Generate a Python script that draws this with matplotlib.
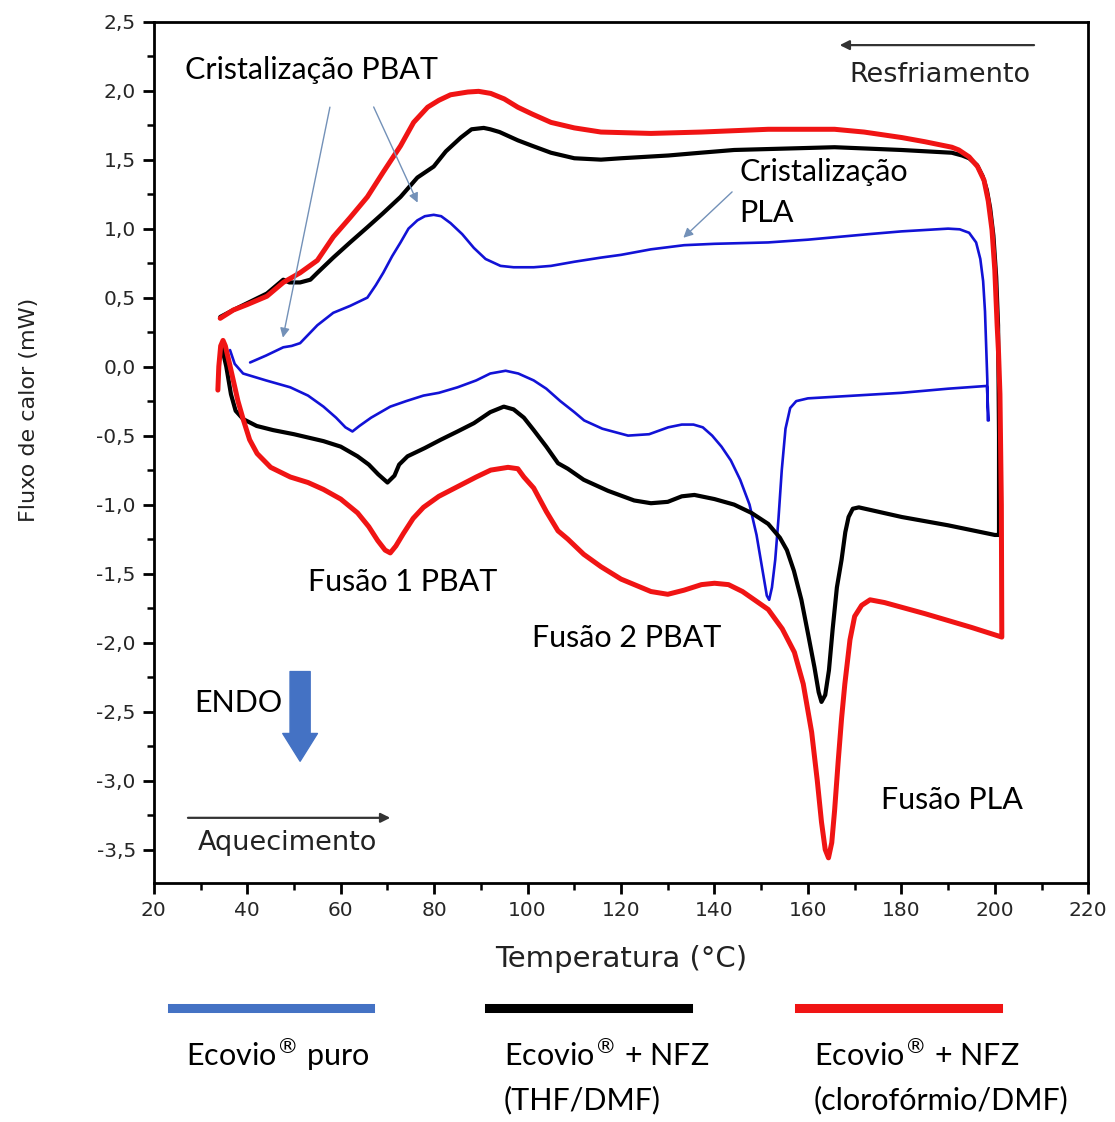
import matplotlib
matplotlib.use("Agg")
import matplotlib.pyplot as plt
from matplotlib.lines import Line2D
from matplotlib.ticker import MultipleLocator, FuncFormatter

# Ecovio puro (blue) - heating then cooling
blue_heat_T = [36.3, 37.3, 39.1, 44, 49.2, 53, 56.3, 59, 61, 62.5, 64, 66.5, 70.6, 74, 77.7, 81, 85.0, 89, 92,
               95.3, 98, 101.3, 104, 107, 110, 112.1, 116, 121.5, 126, 130.1, 133, 135.5, 137.5, 139.5, 141.5,
               143.5, 145.5, 147.5, 149, 150.3, 151.2, 151.7, 152.3, 153.0, 153.7, 154.4, 155.2, 156.2, 157.5,
               160, 165, 170, 180, 190, 198.3, 198.7]
blue_heat_q = [0.12, 0.02, -0.05, -0.10, -0.15, -0.21, -0.29, -0.37, -0.44, -0.47, -0.43, -0.37, -0.29, -0.25,
               -0.21, -0.19, -0.15, -0.10, -0.05, -0.03, -0.05, -0.10, -0.16, -0.25, -0.33, -0.39, -0.45, -0.50,
               -0.49, -0.44, -0.42, -0.42, -0.44, -0.50, -0.58, -0.68, -0.82, -1.00, -1.22, -1.48, -1.66, -1.69,
               -1.60, -1.40, -1.10, -0.75, -0.45, -0.30, -0.25, -0.23, -0.22, -0.21, -0.19, -0.16, -0.14, -0.39]
blue_cool_T = [198.5, 198.4, 198.2, 197.9, 197.5, 196.9, 196.0, 194.5, 192.5, 190, 180, 173, 160, 151.5, 140,
               133.5, 126.4, 120, 115.7, 110, 105, 101.3, 97, 94.2, 91, 88.5, 86, 83.5, 81.5, 79.9, 78, 76.4,
               74.5, 72.8, 71, 69.1, 67.5, 65.7, 62, 58.4, 55, 51.3, 49.5, 47.7, 44, 40.6]
blue_cool_q = [-0.39, -0.10, 0.10, 0.40, 0.62, 0.78, 0.90, 0.97, 0.995, 1.00, 0.98, 0.96, 0.92, 0.90, 0.89,
               0.88, 0.85, 0.81, 0.79, 0.76, 0.73, 0.72, 0.72, 0.73, 0.78, 0.86, 0.96, 1.04, 1.09, 1.10, 1.09,
               1.06, 1.00, 0.90, 0.80, 0.68, 0.59, 0.50, 0.44, 0.39, 0.30, 0.17, 0.15, 0.14, 0.08, 0.03]

# Ecovio + NFZ (THF/DMF) (black)
black_heat_T = [34.5, 35.5, 36.5, 37.5, 39.1, 42, 45.5, 50, 56.3, 60, 63.6, 66, 68, 70.0, 71.5, 72.5, 74.3, 78,
                81.4, 85, 88.5, 92, 94.9, 97, 99.2, 101.3, 104, 106.5, 108.6, 112, 117.2, 122.8, 126.4, 130, 133,
                135.7, 140, 144.2, 147.9, 151.5, 154, 155.5, 157.0, 158.6, 160.1, 161.4, 162.3, 162.9, 163.7,
                164.5, 165.3, 166.2, 167.2, 168.0, 168.7, 169.6, 170.9, 180.1, 190, 200.0]
black_heat_q = [0.15, 0.0, -0.20, -0.32, -0.38, -0.43, -0.46, -0.49, -0.54, -0.58, -0.65, -0.71, -0.78, -0.84,
                -0.79, -0.71, -0.65, -0.59, -0.53, -0.47, -0.41, -0.33, -0.29, -0.31, -0.37, -0.46, -0.58, -0.70,
                -0.74, -0.82, -0.90, -0.97, -0.99, -0.98, -0.94, -0.93, -0.96, -1.00, -1.06, -1.14, -1.24, -1.33,
                -1.48, -1.69, -1.95, -2.18, -2.36, -2.43, -2.38, -2.20, -1.90, -1.60, -1.40, -1.20, -1.09, -1.03,
                -1.02, -1.09, -1.15, -1.22]
black_cool_T = [200.9, 200.9, 200.7, 200.3, 199.7, 199.0, 198.3, 197.4, 196.2, 194.5, 193.0, 190.8, 180, 165.7,
                155, 144.2, 137, 130.1, 120, 115.7, 110, 105.0, 101, 97.9, 94, 92, 90.6, 88, 85.7, 82.5, 79.9,
                76.4, 72.8, 69, 65.7, 62, 58.4, 55, 53.5, 51.3, 49, 47.7, 44.2, 40, 37.0, 34.2]
black_cool_q = [-1.22, -0.5, 0.3, 0.65, 0.95, 1.15, 1.28, 1.38, 1.46, 1.51, 1.53, 1.55, 1.57, 1.59, 1.58, 1.57,
                1.55, 1.53, 1.51, 1.50, 1.51, 1.55, 1.60, 1.64, 1.70, 1.72, 1.73, 1.72, 1.66, 1.56, 1.45, 1.37,
                1.23, 1.11, 1.01, 0.90, 0.79, 0.68, 0.63, 0.61, 0.61, 0.63, 0.53, 0.46, 0.41, 0.36]

# Ecovio + NFZ (cloroformio/DMF) (red)
red_heat_T = [33.7, 33.9, 34.3, 34.8, 35.3, 36.2, 37.0, 38.0, 39.1, 40.5, 42.1, 45, 49.2, 53, 56.3, 60, 63.6, 66,
              67.9, 69.5, 70.6, 71.8, 73.4, 75.5, 77.7, 81, 85.0, 89, 92.1, 95.8, 97.9, 99.2, 101.3, 104, 106.5,
              108.6, 112, 115.7, 120, 126.4, 130, 133.5, 137.2, 140, 143.0, 146, 151.5, 154.5, 157.1, 159, 160.8,
              162, 162.9, 163.7, 164.4, 165.1, 165.7, 166.5, 167.2, 167.9, 169, 170.0, 171.5, 173.3, 176.4, 185,
              195, 201.5]
red_heat_q = [-0.17, 0.0, 0.15, 0.19, 0.15, 0.02, -0.10, -0.25, -0.38, -0.53, -0.63, -0.73, -0.80, -0.84, -0.89,
              -0.96, -1.06, -1.16, -1.26, -1.33, -1.35, -1.30, -1.21, -1.10, -1.02, -0.94, -0.87, -0.80, -0.75,
              -0.73, -0.74, -0.80, -0.88, -1.05, -1.19, -1.25, -1.36, -1.45, -1.54, -1.63, -1.65, -1.62, -1.58,
              -1.57, -1.58, -1.63, -1.76, -1.90, -2.07, -2.30, -2.65, -3.00, -3.30, -3.50, -3.56, -3.45, -3.22,
              -2.85, -2.55, -2.30, -1.98, -1.81, -1.73, -1.69, -1.71, -1.79, -1.89, -1.96]
red_cool_T = [201.5, 201.4, 201.1, 200.8, 200.5, 200.0, 199.4, 198.6, 197.7, 196.3, 194.5, 192.3, 190.8, 185,
              180.1, 172, 165.7, 151.5, 137.2, 126.4, 115.7, 110, 105.0, 101, 97.9, 95, 92.1, 89.5, 87.2, 83.5,
              81, 78.6, 75.6, 72.8, 69.1, 65.7, 62, 58.4, 55.0, 51.3, 47.7, 44.2, 40, 37.0, 34.2]
red_cool_q = [-1.96, -1.0, -0.2, 0.1, 0.30, 0.70, 0.99, 1.20, 1.35, 1.45, 1.52, 1.57, 1.59, 1.63, 1.66, 1.70,
              1.72, 1.72, 1.70, 1.69, 1.70, 1.73, 1.77, 1.83, 1.88, 1.94, 1.98, 1.995, 1.99, 1.97, 1.93, 1.88,
              1.77, 1.60, 1.41, 1.23, 1.08, 0.94, 0.77, 0.68, 0.61, 0.51, 0.45, 0.41, 0.35]

legend_line1 = ["Ecovio$^{\u00ae}$ puro", "Ecovio$^{\u00ae}$ + NFZ", "Ecovio$^{\u00ae}$ + NFZ"]
legend_line2 = ["", "(THF/DMF)", "(clorof\u00f3rmio/DMF)"]

ANNOT = ["Lato", "DejaVu Sans"]
AXF = ["DejaVu Sans"]

fig = plt.figure(figsize=(11.15, 11.22), dpi=100)
ax = fig.add_axes([0.138, 0.2133, 0.838, 0.7674])

line_kw = dict(solid_joinstyle="round", solid_capstyle="round")
ax.plot(blue_heat_T + blue_cool_T, blue_heat_q + blue_cool_q, color="#1212d6", lw=1.9, **line_kw)
ax.plot(black_heat_T + black_cool_T, black_heat_q + black_cool_q, color="black", lw=3.0, **line_kw)
ax.plot(red_heat_T + red_cool_T, red_heat_q + red_cool_q, color="#f01414", lw=3.6, **line_kw)

ax.set_xlim(20, 220)
ax.set_ylim(-3.74, 2.5)
ax.xaxis.set_major_locator(MultipleLocator(20))
ax.xaxis.set_minor_locator(MultipleLocator(10))
ax.yaxis.set_major_locator(MultipleLocator(0.5))
ax.yaxis.set_minor_locator(MultipleLocator(0.25))
ax.yaxis.set_major_formatter(FuncFormatter(lambda v, p: f"{v:.1f}".replace(".", ",")))
ax.tick_params(which="major", direction="out", length=8, width=2, labelsize=14.5, labelcolor="#262626", pad=5)
ax.tick_params(which="minor", direction="out", length=5, width=1.8)
for lab in ax.get_xticklabels() + ax.get_yticklabels():
    lab.set_family(AXF)
for s in ax.spines.values():
    s.set_linewidth(2)

ax.set_xlabel("Temperatura (\u00b0C)", fontsize=21, family=AXF, color="#222222", labelpad=18)
fig.text(0.026, 0.635, "Fluxo de calor (mW)", rotation=90, fontsize=16, family=AXF,
         color="#222222", ha="center", va="center")

# annotations
FS = 22
arrow_kw = dict(arrowstyle="-|>", color="#7391b8", lw=1.0, mutation_scale=14)
ax.text(26.7, 2.15, "Cristaliza\u00e7\u00e3o PBAT", fontsize=FS, family=ANNOT, ha="left", va="center")
ax.annotate("", xy=(47.5, 0.19), xytext=(57.8, 1.90), arrowprops=arrow_kw)
ax.annotate("", xy=(76.7, 1.17), xytext=(66.8, 1.90), arrowprops=arrow_kw)
ax.text(145.3, 1.41, "Cristaliza\u00e7\u00e3o", fontsize=FS, family=ANNOT, ha="left", va="center")
ax.text(145.3, 1.11, "PLA", fontsize=FS, family=ANNOT, ha="left", va="center")
ax.annotate("", xy=(132.9, 0.92), xytext=(144.2, 1.28), arrowprops=arrow_kw)
ax.text(73.2, -1.56, "Fus\u00e3o 1 PBAT", fontsize=FS, family=ANNOT, ha="center", va="center")
ax.text(121.3, -1.97, "Fus\u00e3o 2 PBAT", fontsize=FS, family=ANNOT, ha="center", va="center")
ax.text(190.8, -3.14, "Fus\u00e3o PLA", fontsize=FS, family=ANNOT, ha="center", va="center")
ax.text(38.0, -2.44, "ENDO", fontsize=FS, family=ANNOT, ha="center", va="center")
ax.annotate("", xy=(51.3, -2.86), xytext=(51.3, -2.21),
            arrowprops=dict(arrowstyle="simple,head_length=0.8,head_width=1.0,tail_width=0.58",
                            color="#4472c4", mutation_scale=25, shrinkA=0, shrinkB=0))
ax.annotate("", xy=(70.6, -3.27), xytext=(27.3, -3.27),
            arrowprops=dict(arrowstyle="-|>", color="#333333", lw=1.6, mutation_scale=14, shrinkA=0, shrinkB=0))
ax.text(48.5, -3.45, "Aquecimento", fontsize=19.5, family=AXF, color="#222222", ha="center", va="center")
ax.annotate("", xy=(166.8, 2.33), xytext=(208.4, 2.33),
            arrowprops=dict(arrowstyle="-|>", color="#333333", lw=1.6, mutation_scale=14, shrinkA=0, shrinkB=0))
ax.text(188.2, 2.11, "Resfriamento", fontsize=19.5, family=AXF, color="#222222", ha="center", va="center")

# legend below the plot
legend_colors = ["#4472c4", "black", "#f01414"]
legend_x = [0.154, 0.439, 0.717]
for x0, c, l1, l2 in zip(legend_x, legend_colors, legend_line1, legend_line2):
    fig.add_artist(Line2D([x0, x0 + 0.178], [0.1016, 0.1016], color=c, lw=6.5,
                          transform=fig.transFigure))
    fig.text(x0 + 0.013, 0.0597, l1, fontsize=FS, family=ANNOT, ha="left", va="center")
    if l2:
        fig.text(x0 + 0.013, 0.0196, l2, fontsize=FS, family=ANNOT, ha="left", va="center")

fig.savefig("out.png", dpi=100)
